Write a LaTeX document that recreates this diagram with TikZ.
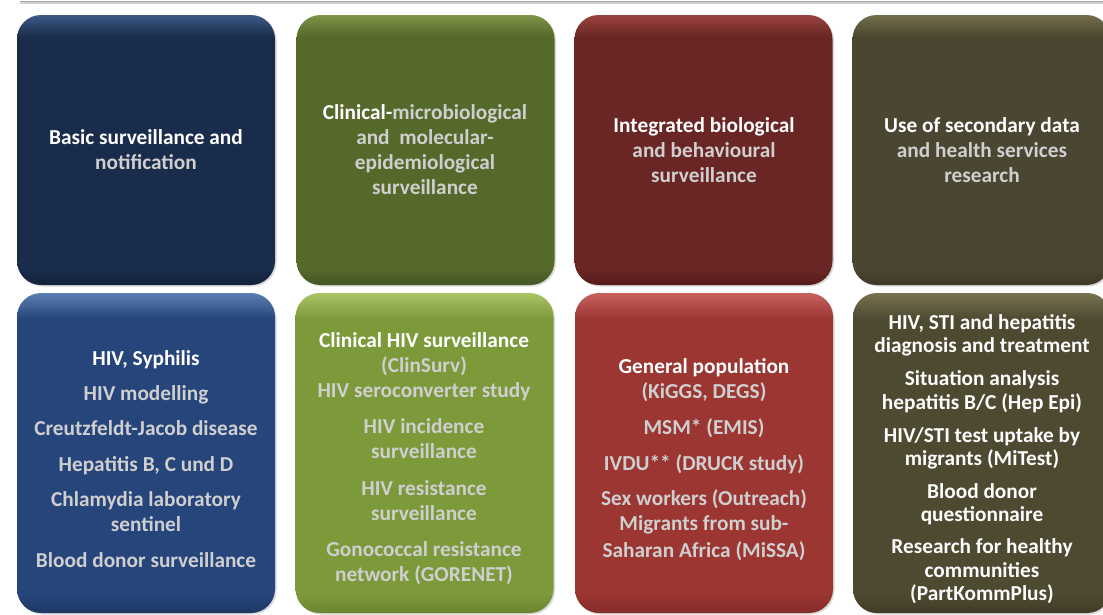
\documentclass[tikz,border=0pt]{standalone}
\usepackage{fontspec}
\setmainfont{Carlito}
\usetikzlibrary{shadows}
\definecolor{lg}{HTML}{CFCFCF}
\definecolor{aM}{HTML}{1A2C4B}\definecolor{aL}{HTML}{3D5A86}\definecolor{aD}{HTML}{13213A}
\definecolor{bM}{HTML}{55692B}\definecolor{bL}{HTML}{7D9447}\definecolor{bD}{HTML}{445622}
\definecolor{cM}{HTML}{6A2624}\definecolor{cL}{HTML}{9A4440}\definecolor{cD}{HTML}{561C1B}
\definecolor{dM}{HTML}{4B4631}\definecolor{dL}{HTML}{746E4C}\definecolor{dD}{HTML}{3C3826}
\definecolor{eM}{HTML}{26457A}\definecolor{eL}{HTML}{5A7FB2}\definecolor{eD}{HTML}{1E3864}
\definecolor{fM}{HTML}{7D9A3B}\definecolor{fL}{HTML}{A9C365}\definecolor{fD}{HTML}{6A8430}
\definecolor{gM}{HTML}{9B3633}\definecolor{gL}{HTML}{C7625D}\definecolor{gD}{HTML}{842C2A}
\definecolor{hM}{HTML}{4E4A31}\definecolor{hL}{HTML}{787250}\definecolor{hD}{HTML}{403C27}
\newcommand\mkshade[1]{\pgfdeclareverticalshading{sh#1}{100bp}{color(0bp)=(#1D); color(25bp)=(#1D); color(28bp)=(#1M); color(71bp)=(#1M); color(75bp)=(#1L); color(100bp)=(#1L)}}
\mkshade{a}\mkshade{b}\mkshade{c}\mkshade{d}\mkshade{e}\mkshade{f}\mkshade{g}\mkshade{h}
\tikzset{
  panel/.style={rectangle, rounded corners=24pt, minimum width=258pt, inner sep=0pt,
    shading=sh#1, drop shadow={opacity=0.3, shadow xshift=1.5pt, shadow yshift=-1.5pt}},
  toppanel/.style={panel=#1, minimum height=270pt},
  botpanel/.style={panel=#1, minimum height=320pt},
  lbl/.style={align=center, inner sep=0pt, text=lg, font=\fontsize{21.3}{25}\selectfont\bfseries},
  lbltight/.style={lbl, font=\fontsize{21.3}{23.5}\selectfont\bfseries},
}
\newcommand\W[1]{\textcolor{white}{#1}}
\begin{document}
\begin{tikzpicture}[x=1pt,y=-1pt]
\useasboundingbox (0,0) rectangle (1103,614);
\draw[gray!35, line width=2pt] (20,2.5) -- (1103,2.5);
\draw[gray!70, line width=1pt] (20,1.2) -- (1103,1.2);
% top row
\node[toppanel=a] (p1) at (146,150) {};
\node[toppanel=b] (p2) at (425.5,150) {};
\node[toppanel=c] (p3) at (703.5,150) {};
\node[toppanel=d] (p4) at (981.5,150) {};
% bottom row
\node[botpanel=e] (q1) at (146,453) {};
\node[botpanel=f] (q2) at (424.5,453) {};
\node[botpanel=g] (q3) at (704,453) {};
\node[botpanel=h] (q4) at (982,453) {};
% top labels
\node[lbl] (l1) at (146,150) {\W{Basic surveillance and}\\notification};
\node[lbl] (l2) at (425,149.5) {\W{Clinical-}microbiological\\and\ \ molecular-\\epidemiological\\surveillance};
\node[lbl] (l3) at (704,150) {\W{Integrated biological}\\and behavioural\\surveillance};
\node[lbl] (l4) at (982,150) {\W{Use of secondary data}\\and health services\\research};
% bottom labels
\node[lbl] (m1) at (146,459) {\W{HIV, Syphilis}\\[10.5pt]HIV modelling\\[10pt]Creutzfeldt-Jacob disease\\[11pt]Hepatitis B, C und D\\[10pt]Chlamydia laboratory\\sentinel\\[11pt]Blood donor surveillance};
\node[lbl] (m2) at (424,459) {\W{Clinical HIV surveillance}\\(ClinSurv)\\HIV seroconverter study\\[11pt]HIV incidence\\surveillance\\[12pt]HIV resistance\\surveillance\\[11pt]Gonococcal resistance\\network (GORENET)};
\node[lbl] (m3) at (704,460) {\W{General population}\\(KiGGS, DEGS)\\[11pt]MSM* (EMIS)\\[11pt]IVDU** (DRUCK study)\\[10pt]Sex workers (Outreach)\\Migrants from sub-\\[2pt]Saharan Africa (MiSSA)};
\node[lbltight,text=white!95!lg] (m4) at (982,459) {HIV, STI and hepatitis\\diagnosis and treatment\\[9.5pt]Situation analysis\\hepatitis B/C (Hep Epi)\\[9.5pt]HIV/STI test uptake by\\migrants (MiTest)\\[9pt]Blood donor\\questionnaire\\[8.5pt]Research for healthy\\communities\\(PartKommPlus)};
\end{tikzpicture}
\end{document}
